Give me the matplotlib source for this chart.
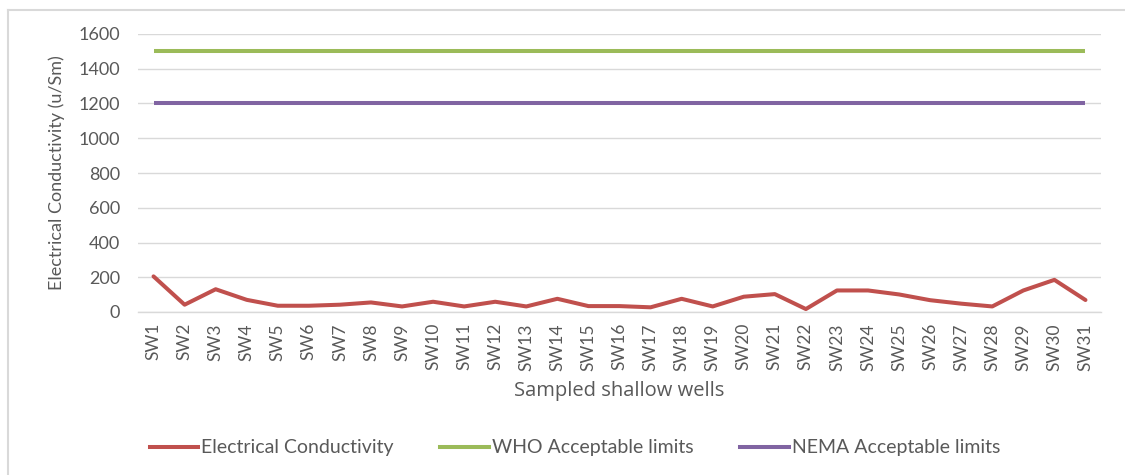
import matplotlib
matplotlib.use("Agg")
import matplotlib.pyplot as plt
from matplotlib.lines import Line2D

plt.rcParams['font.family'] = ['Lato', 'DejaVu Sans']

wells = [f"SW{i}" for i in range(1, 32)]
conductivity = [205, 42, 131, 70, 36, 36, 42, 55, 32, 59, 32, 59, 32, 76, 34,
                34, 27, 76, 32, 88, 103, 17, 124, 124, 101, 68, 48, 32, 124, 185, 69]
who_limit = [1500] * len(wells)
nema_limit = [1200] * len(wells)
y_ticks = [0, 200, 400, 600, 800, 1000, 1200, 1400, 1600]

RED = "#C0504D"
GREEN = "#9BBB59"
PURPLE = "#8064A2"
TEXT = "#595959"
GRID = "#D9D9D9"

fig = plt.figure(figsize=(11.25, 4.75), dpi=100)
ax = fig.add_axes([138 / 1125, 1 - 312 / 475, (1101 - 138) / 1125, (312 - 34) / 475])

x = list(range(len(wells)))
ax.plot(x, conductivity, color=RED, lw=2.9, solid_capstyle='round', solid_joinstyle='round',
        label="Electrical Conductivity", zorder=3)
ax.plot(x, who_limit, color=GREEN, lw=2.9, solid_capstyle='butt',
        label="WHO Acceptable limits", zorder=3)
ax.plot(x, nema_limit, color=PURPLE, lw=2.9, solid_capstyle='butt',
        label="NEMA Acceptable limits", zorder=3)

ax.set_xlim(-0.5, len(wells) - 0.5)
ax.set_ylim(0, 1600)
ax.set_yticks(y_ticks)
ax.set_xticks(x)
ax.set_xticklabels(wells, rotation=90, fontsize=12.5, color=TEXT)
ax.tick_params(axis='y', labelsize=13, colors=TEXT, length=0, pad=13)
ax.tick_params(axis='x', length=0, pad=8)
ax.grid(axis='y', color=GRID, lw=1)
ax.set_axisbelow(True)
for side in ('top', 'right', 'left'):
    ax.spines[side].set_visible(False)
ax.spines['bottom'].set_color(GRID)
ax.spines['bottom'].set_linewidth(1)

ax.set_ylabel("Electrical Conductivity (u/Sm)", fontsize=13, color=TEXT)
ax.yaxis.set_label_coords(-(138 - 65) / (1101 - 138), 0.5)
ax.set_xlabel("Sampled shallow wells", fontsize=14.5, color=TEXT,
              family=['Open Sans', 'DejaVu Sans'])
ax.xaxis.set_label_coords(0.5, -(381 - 312) / (312 - 34))

handles = [Line2D([0], [0], color=c, lw=2.9) for c in (RED, GREEN, PURPLE)]
labels = ["Electrical Conductivity", "WHO Acceptable limits", "NEMA Acceptable limits"]
fig.legend(handles, labels, loc='center', bbox_to_anchor=(575 / 1125, 1 - 448 / 475), ncol=3,
           frameon=False, fontsize=14, handlelength=2.5, handletextpad=0.15,
           columnspacing=2.4, labelcolor=TEXT)

# chart frame
fig.add_artist(Line2D([8 / 1125, 1], [1 - 10 / 475, 1 - 10 / 475], color=GRID, lw=1.5))
fig.add_artist(Line2D([8 / 1125, 8 / 1125], [0, 1 - 10 / 475], color=GRID, lw=1.5))

fig.savefig("out.png", dpi=100, facecolor="white")
